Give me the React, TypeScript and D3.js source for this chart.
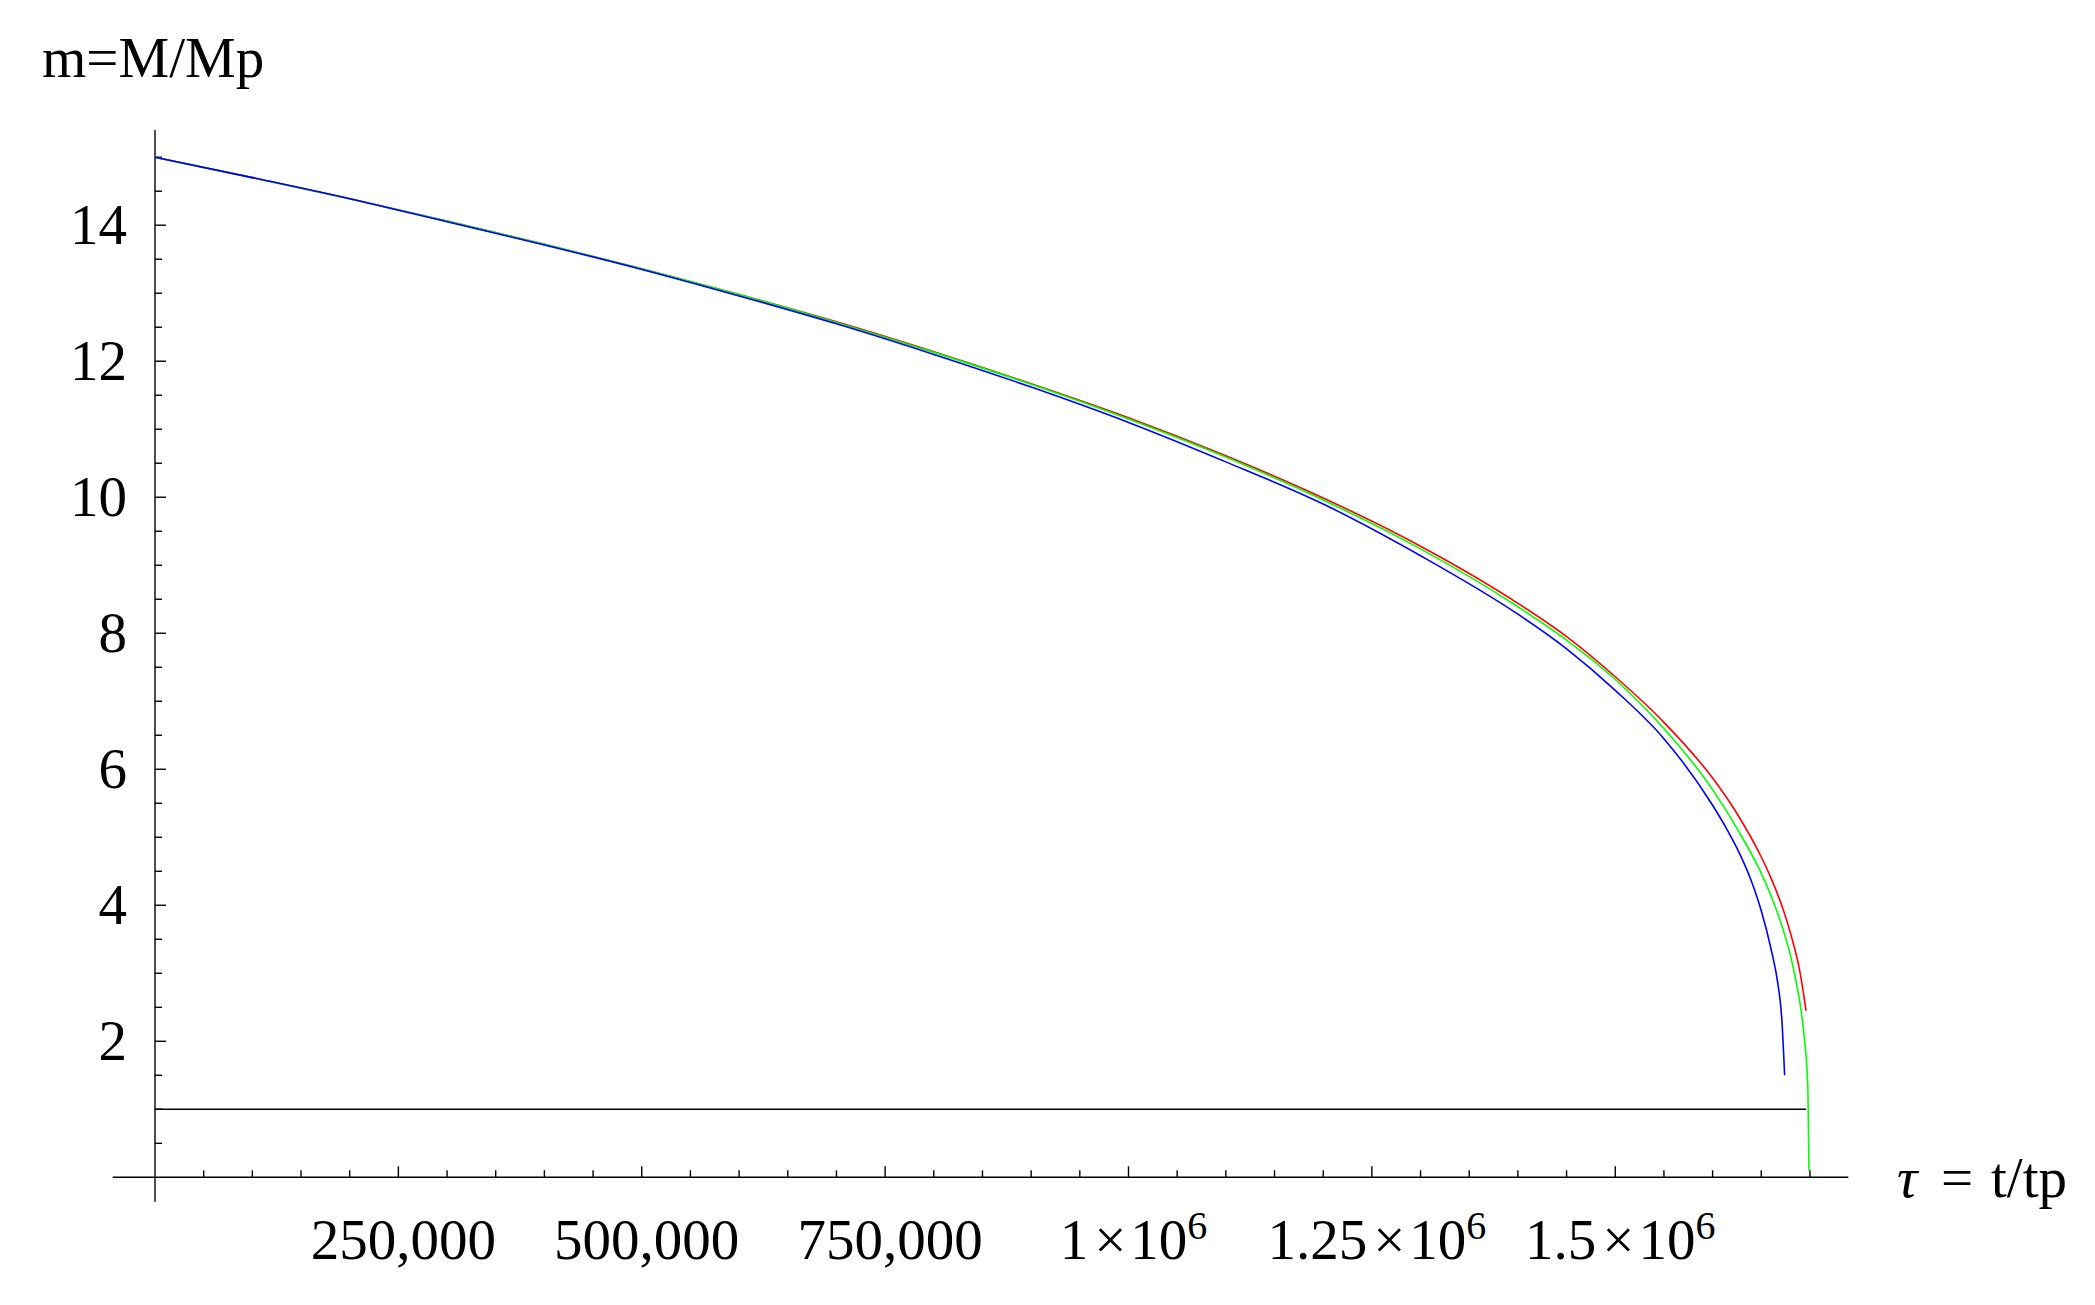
import React from 'react';
import * as d3 from 'd3';

// tau = t/tp, m = M/Mp
const tauRed = [0, 100000, 200000, 300000, 400000, 500000, 600000, 700000, 800000, 900000, 1000000, 1100000, 1200000, 1300000, 1400000, 1450000, 1500000, 1550000, 1600000, 1625000, 1650000, 1660000, 1670000, 1680000, 1690000, 1696000];
const mRed = [15, 14.7, 14.39, 14.06, 13.72, 13.36, 12.98, 12.58, 12.14, 11.67, 11.17, 10.61, 9.99, 9.28, 8.44, 7.95, 7.36, 6.69, 5.87, 5.35, 4.71, 4.4, 4.04, 3.59, 3.0, 2.45];

const tauGreen = [0, 100000, 200000, 300000, 400000, 500000, 600000, 700000, 800000, 900000, 1000000, 1100000, 1200000, 1300000, 1400000, 1450000, 1500000, 1550000, 1600000, 1625000, 1650000, 1660000, 1670000, 1675000, 1680000, 1685000, 1690000, 1695000, 1697000, 1698000, 1699000];
const mGreen = [15, 14.7, 14.39, 14.06, 13.72, 13.36, 12.98, 12.57, 12.13, 11.66, 11.15, 10.59, 9.96, 9.24, 8.39, 7.9, 7.32, 6.6, 5.7, 5.13, 4.47, 4.14, 3.75, 3.52, 3.26, 2.93, 2.54, 1.94, 1.58, 1.2, 0.1];

const tauBlue = [0, 100000, 200000, 300000, 400000, 500000, 600000, 700000, 800000, 900000, 1000000, 1100000, 1200000, 1300000, 1400000, 1450000, 1500000, 1550000, 1600000, 1615000, 1625000, 1640000, 1650000, 1660000, 1667000, 1671000, 1674000];
const mBlue = [15, 14.7, 14.39, 14.05, 13.71, 13.35, 12.96, 12.55, 12.1, 11.62, 11.1, 10.52, 9.9, 9.14, 8.28, 7.77, 7.16, 6.45, 5.47, 5.11, 4.84, 4.35, 3.92, 3.36, 2.85, 2.35, 1.5];

// Planck mass reference line
const planckLine = [[0, 1], [1696000, 1]];

const xMajorTicks = [250000, 500000, 750000, 1000000, 1250000, 1500000];
const xTickLabels = ['250,000', '500,000', '750,000', '1×10^6', '1.25×10^6', '1.5×10^6'];
const yMajorTicks = [2, 4, 6, 8, 10, 12, 14];
const yTickLabels = ['2', '4', '6', '8', '10', '12', '14'];

const seriesColors = ['#ff0000', '#00ff00', '#0000ff'];

const W = 2095;
const H = 1305;
const font = '"Liberation Serif", "Times New Roman", serif';

function TickLabel({ label, x, y }) {
  const parts = label.split('^');
  if (parts.length === 1) {
    return <text x={x} y={y} textAnchor="middle" fontSize={57}>{label}</text>;
  }
  const [mant, rest] = parts[0].split('×');
  return (
    <text x={x} y={y} textAnchor="middle" fontSize={57}>
      <tspan>{mant}</tspan>
      <tspan dx={6}>×</tspan>
      <tspan dx={4}>{rest}</tspan>
      <tspan fontSize={40} dy={-20}>{parts[1]}</tspan>
    </text>
  );
}

export default function App() {
  const x = d3.scaleLinear().domain([-43450, 1739400]).range([112.7, 1848.3]);
  const y = d3.scaleLinear().domain([-0.359, 15.4]).range([1201.7, 130]);

  const line = d3.line<number[]>()
    .x(d => x(d[0]))
    .y(d => y(d[1]))
    .curve(d3.curveMonotoneX);

  const series = [
    tauRed.map((t, i) => [t, mRed[i]]),
    tauGreen.map((t, i) => [t, mGreen[i]]),
    tauBlue.map((t, i) => [t, mBlue[i]]),
  ];

  const x0 = x(0);
  const y0 = y(0);
  const xMinor = d3.range(50000, 1700001, 50000).filter(t => !xMajorTicks.includes(t));
  const yMinor = d3.range(0.5, 15.01, 0.5).filter(v => !yMajorTicks.includes(v));

  return (
    <svg width={W} height={H} style={{ position: 'absolute', left: 0, top: 0, display: 'block', background: '#fff' }} fontFamily={font}>
      <g stroke="#000" strokeWidth={1.4}>
        <line x1={x.range()[0]} x2={x.range()[1]} y1={y0} y2={y0} />
        <line x1={x0} x2={x0} y1={y.range()[0]} y2={y.range()[1]} />
        {xMajorTicks.map(t => (
          <line key={'xM' + t} x1={x(t)} x2={x(t)} y1={y0} y2={y0 - 11} />
        ))}
        {xMinor.map(t => (
          <line key={'xm' + t} x1={x(t)} x2={x(t)} y1={y0} y2={y0 - 7} />
        ))}
        {yMajorTicks.map(v => (
          <line key={'yM' + v} x1={x0} x2={x0 + 11} y1={y(v)} y2={y(v)} />
        ))}
        {yMinor.map(v => (
          <line key={'ym' + v} x1={x0} x2={x0 + 7} y1={y(v)} y2={y(v)} />
        ))}
      </g>

      <path d={line(planckLine)} fill="none" stroke="#000" strokeWidth={1.4} />

      {series.map((s, i) => (
        <path key={i} d={line(s)} fill="none" stroke={seriesColors[i]} strokeWidth={1.6} />
      ))}

      {xMajorTicks.map((t, i) => (
        <TickLabel key={t} label={xTickLabels[i]} x={x(t) + 5} y={1259} />
      ))}
      {yMajorTicks.map((v, i) => (
        <text key={v} x={127} y={y(v) + 19} textAnchor="end" fontSize={57}>{yTickLabels[i]}</text>
      ))}

      <text x={42} y={77} fontSize={57}>m=M/Mp</text>
      <text y={1197} fontSize={57}>
        <tspan x={1897} fontStyle="italic">τ</tspan>
        <tspan x={1941}>=</tspan>
        <tspan x={1991}>t/tp</tspan>
      </text>
    </svg>
  );
}
